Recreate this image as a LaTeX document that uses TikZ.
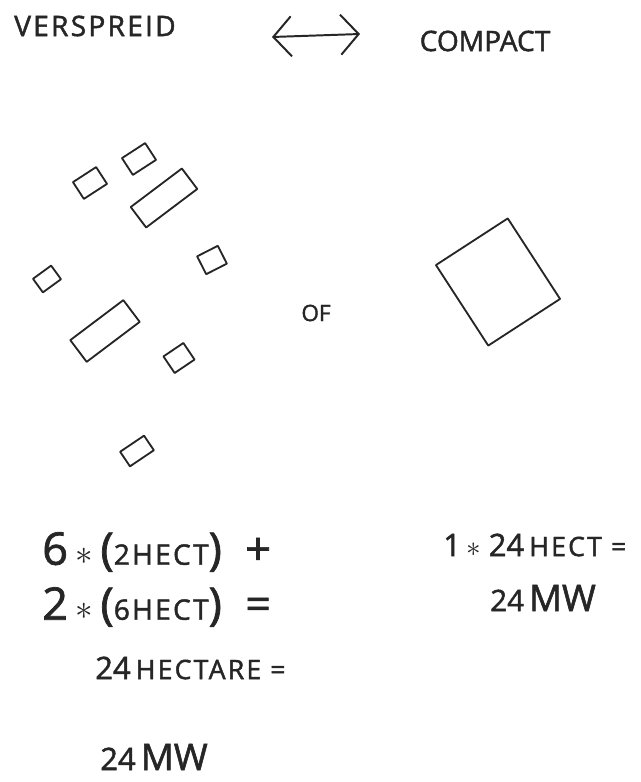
\documentclass[tikz,border=0pt]{standalone}
\usepackage{fontspec}
\setmainfont{Open Sans}[FakeBold=1.6]
\usepackage{tikz}
\usepackage{xcolor}
\usetikzlibrary{arrows.meta,positioning}
\definecolor{ink}{HTML}{262626}
\definecolor{paper}{HTML}{FFFFFF}
\tikzset{
  parcel/.style n args={3}{draw=ink, line width=1.3pt, line join=round, inner sep=0pt,
                  minimum width=#1cm, minimum height=#2cm, rotate=#3},
  heading/.style={text=ink, font=\fontsize{20}{20}\selectfont},
  calc/.style={text=ink, anchor=west, inner sep=0pt, font=\fontsize{20}{20}\selectfont},
  swap/.style={{Straight Barb[length=4.5mm,width=10mm]}-{Straight Barb[length=4.5mm,width=10mm]},
               line width=1.4pt, draw=ink}
}
\newcommand{\bigpart}[1]{{\fontsize{32}{32}\selectfont #1}}
\newcommand{\spaced}[1]{{\addfontfeature{LetterSpace=8}#1}}

\begin{document}
\begin{tikzpicture}[x=0.025cm,y=-0.025cm]
    \fill[paper] (0,0) rectangle (640,782);
    \useasboundingbox (0,0) rectangle (640,782);

    % header
    \node[heading] (spread) at (95,26) {\spaced{VERSPREID}};
    \node[heading] (compact) at (485,41) {COMPACT};
    \coordinate (swapl) at (272,37);
    \coordinate (swapr) at (360,34);
    \draw[swap] (swapl) -- (swapr);

    % scattered parcels
    \node[parcel={0.69}{0.5}{33}] (p1) at (90,183) {};
    \node[parcel={0.69}{0.5}{33}] (p2) at (139,159) {};
    \node[parcel={1.6}{0.64}{37}] (strip1) at (164,198) {};
    \node[parcel={0.58}{0.5}{27}] (p3) at (212,260) {};
    \node[parcel={0.56}{0.42}{36}] (p4) at (47,279) {};
    \node[parcel={1.66}{0.68}{37}] (strip2) at (105,331) {};
    \node[parcel={0.6}{0.5}{34}] (p5) at (179,358) {};
    \node[parcel={0.72}{0.44}{34}] (p6) at (137,451) {};

    \node[heading, font=\fontsize{16}{16}\selectfont] (or) at (316,313) {OF};

    % one big parcel
    \node[parcel={2.14}{2.4}{33}] (big) at (498,282) {};

    % sums
    \node[calc] (sum1) at (42,552) {\bigpart{6\,$\ast$\,(}\spaced{2HECT}\bigpart{)\ \ +}};
    \node[calc] (sum2) at (42,607) {\bigpart{2\,$\ast$\,(}\spaced{6HECT}\bigpart{)\ \ =}};
    \node[calc] (total) at (95,668) {\fontsize{22}{22}\selectfont 24\,{\fontsize{19}{19}\selectfont\spaced{HECTARE\ =}}};
    \node[calc] (mw1) at (100,757) {\fontsize{22}{22}\selectfont 24\,{\fontsize{26}{26}\selectfont MW}};
    \node[calc] (sum3) at (443,545) {\fontsize{22}{22}\selectfont 1\,$\ast$\ 24\,{\fontsize{19}{19}\selectfont\spaced{HECT\ =}}};
    \node[calc] (mw2) at (490,598) {\fontsize{21}{21}\selectfont 24\,{\fontsize{26}{26}\selectfont MW}};
\end{tikzpicture}
\end{document}
